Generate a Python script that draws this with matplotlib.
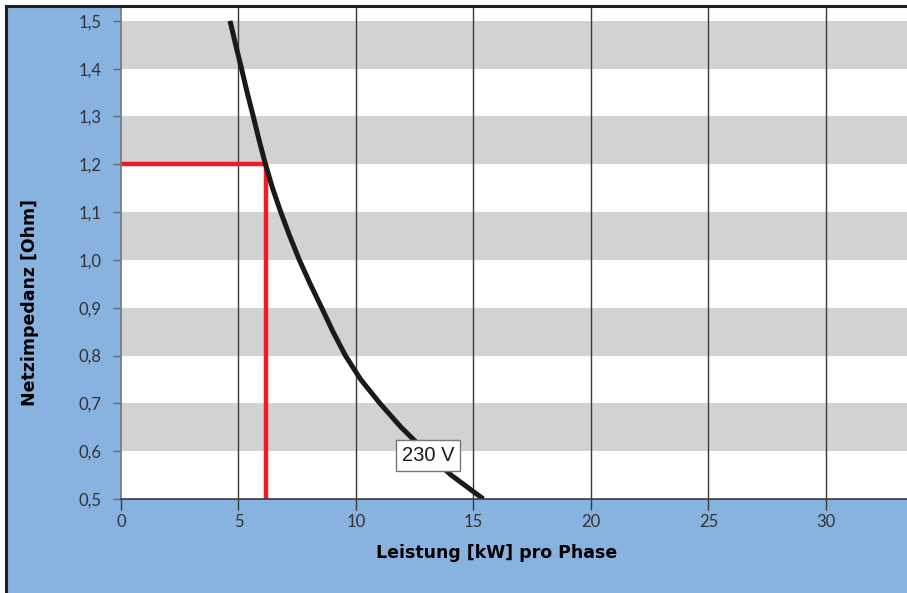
import matplotlib
matplotlib.use("Agg")
import matplotlib.pyplot as plt
from matplotlib.patches import Rectangle
from matplotlib.lines import Line2D

# Data
impedance = [1.50, 1.45, 1.40, 1.35, 1.30, 1.25, 1.20, 1.15, 1.10, 1.05, 1.00, 0.95, 0.90,
             0.85, 0.80, 0.75, 0.70, 0.65, 0.60, 0.55, 0.50]
power_kw  = [4.64, 4.88, 5.13, 5.37, 5.63, 5.88, 6.15, 6.45, 6.80, 7.18, 7.59, 8.05, 8.54,
             9.02, 9.55, 10.20, 11.02, 11.92, 12.95, 14.05, 15.42]
marker_power = 6.15
marker_impedance = 1.2
curve_label = "230 V"
label_pos = (13.06, 0.591)
x_ticks = [0, 5, 10, 15, 20, 25, 30]
y_ticks = [0.5, 0.6, 0.7, 0.8, 0.9, 1.0, 1.1, 1.2, 1.3, 1.4, 1.5]
y_tick_labels = [f"{v:.1f}".replace(".", ",") for v in y_ticks]
bands = [(1.4, 1.5), (1.2, 1.3), (1.0, 1.1), (0.8, 0.9), (0.6, 0.7)]

W, H = 907, 593
fig = plt.figure(figsize=(W / 100, H / 100), dpi=100, facecolor="white")

blue = "#88b2e0"
fig.patches.append(Rectangle((6 / W, 0), 1 - 6 / W, 1 - 6 / H, transform=fig.transFigure,
                             facecolor=blue, edgecolor="none", zorder=-10))
fig.lines.append(Line2D([5.5 / W, 5.5 / W], [0, 1 - 5.5 / H], transform=fig.transFigure,
                        color="#231f20", lw=2.2, zorder=10))
fig.lines.append(Line2D([5.5 / W, 1], [1 - 5.5 / H, 1 - 5.5 / H], transform=fig.transFigure,
                        color="#231f20", lw=2.2, zorder=10))

ax = fig.add_axes([121 / W, (H - 499) / H, (W - 121) / W, (499 - 7) / H])
ax.set_zorder(1)
ax.set_facecolor("white")
ax.set_xlim(0, 33.45)
ax.set_ylim(0.5, 1.529)

for lo, hi in bands:
    ax.axhspan(lo, hi, color="#d1d2d4", lw=0, zorder=0.5)

for xv in x_ticks[1:]:
    ax.axvline(xv, color="#3a3a3a", lw=1.0, zorder=1)

ax.plot([0, marker_power], [marker_impedance, marker_impedance], color="#ee1c25", lw=3.2,
        solid_capstyle="butt", zorder=2)
ax.plot([marker_power, marker_power], [marker_impedance, 0.5], color="#ee1c25", lw=3.2,
        solid_capstyle="butt", zorder=2)
ax.plot(power_kw, impedance, color="#1a1a1a", lw=3.6, solid_capstyle="butt",
        solid_joinstyle="round", zorder=3)

ax.text(label_pos[0], label_pos[1], curve_label, ha="center", va="center", fontsize=14.5,
        family="Liberation Sans", color="#1a1a1a", zorder=4,
        bbox=dict(boxstyle="square,pad=0.28", facecolor="white", edgecolor="#777777", lw=1.0))

for s in ["top", "right"]:
    ax.spines[s].set_visible(False)
ax.spines["left"].set_color("#777777")
ax.spines["left"].set_linewidth(1.2)
ax.spines["bottom"].set_color("#3a3a3a")
ax.spines["bottom"].set_linewidth(1.2)
ax.spines["bottom"].set_zorder(5)

ax.set_xticks(x_ticks)
ax.set_xticklabels([str(v) for v in x_ticks])
ax.set_yticks(y_ticks)
ax.set_yticklabels(y_tick_labels)
ax.tick_params(axis="y", direction="out", length=6, width=1.0, color="#666666", pad=8,
               labelsize=12, labelcolor="#333333")
ax.tick_params(axis="x", direction="out", length=8, width=1.0, color="#3a3a3a", pad=3,
               labelsize=12, labelcolor="#333333")
for lab in ax.get_xticklabels() + ax.get_yticklabels():
    lab.set_family("Lato")

ax.set_xlabel("Leistung [kW] pro Phase", fontsize=12.5, fontweight="bold", family="DejaVu Sans",
              color="black")
ax.xaxis.set_label_coords(0.478, -0.092)
ax.set_ylabel("Netzimpedanz [Ohm]", fontsize=12.5, fontweight="bold", family="DejaVu Sans",
              color="black")
ax.yaxis.set_label_coords(-0.104, 0.40)

fig.savefig("out.png", dpi=100, facecolor="white")
